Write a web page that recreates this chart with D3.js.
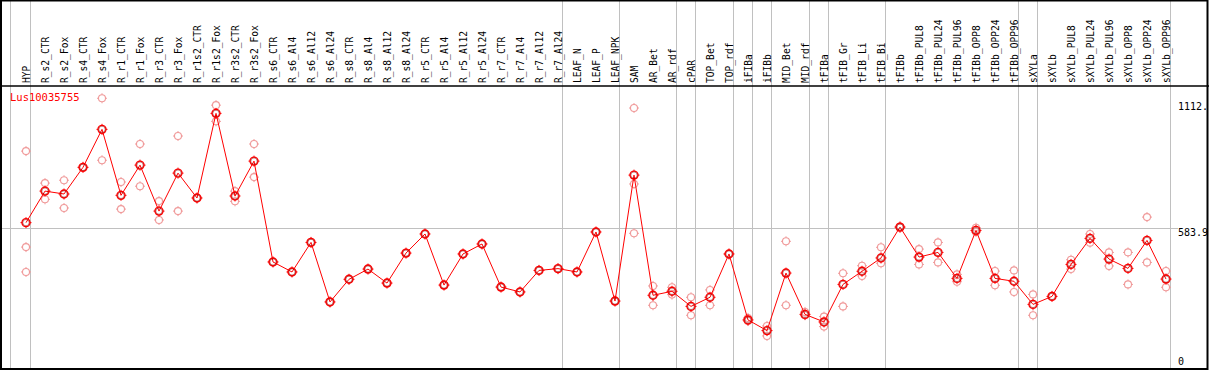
<!DOCTYPE html>
<html>
<head>
<meta charset="utf-8">
<script src="https://cdn.jsdelivr.net/npm/d3@7"></script>
<style>
  body { margin: 0; background: #fff; }
  svg { display: block; }
  text { font-family: "DejaVu Sans Mono", monospace; font-size: 9.6px; }
</style>
</head>
<body>
<svg id="chart" width="1209" height="370"></svg>
<script>
// sample names (header)
const categories = ["HYP",
  "R_s2_CTR", "R_s2_Fox", "R_s4_CTR", "R_s4_Fox", "R_r1_CTR", "R_r1_Fox", "R_r3_CTR", "R_r3_Fox",
  "R_r1s2_CTR", "R_r1s2_Fox", "R_r3s2_CTR", "R_r3s2_Fox",
  "R_s6_CTR", "R_s6_Al4", "R_s6_Al12", "R_s6_Al24", "R_s8_CTR", "R_s8_Al4", "R_s8_Al12", "R_s8_Al24",
  "R_r5_CTR", "R_r5_Al4", "R_r5_Al12", "R_r5_Al24", "R_r7_CTR", "R_r7_Al4", "R_r7_Al12", "R_r7_Al24",
  "LEAF_N", "LEAF_P", "LEAF_NPK",
  "SAM", "AR_Bet", "AR_rdf", "cPAR", "TOP_Bet", "TOP_rdf", "iFIBa", "iFIBb", "MID_Bet", "MID_rdf",
  "tFIBa", "tFIB_Gr", "tFIB_Li", "tFIB_Bi", "tFIBb",
  "tFIBb_PUL8", "tFIBb_PUL24", "tFIBb_PUL96", "tFIBb_OPP8", "tFIBb_OPP24", "tFIBb_OPP96",
  "sXYLa", "sXYLb", "sXYLb_PUL8", "sXYLb_PUL24", "sXYLb_PUL96", "sXYLb_OPP8", "sXYLb_OPP24", "sXYLb_OPP96"];

// mean expression per sample
const means = [608,
  750, 737, 857, 1028, 731, 867, 660, 831, 719, 1100, 728, 885,
  431, 386, 519, 251, 353, 399, 336, 471, 557, 327, 467, 512, 318, 296, 393, 401,
  386, 566, 255,
  822, 281, 299, 231, 272, 467, 170, 122, 381, 195, 161, 330, 389, 449, 588,
  453, 474, 357, 573, 357, 344,
  240, 276, 420, 537, 444, 402, 528, 354];

// individual replicates (pale circles)
const replicates = [[930, 498, 386],
  [786, 713], [799, 674], [857], [1168, 889], [791, 669], [962, 772], [705, 620], [998, 660],
  [719], [1137, 1064], [750, 704], [962, 813],
  [431], [386], [519], [251], [353], [399], [336], [471], [557], [327], [467], [512], [318], [296], [393], [401],
  [386], [566], [255],
  [1124, 782, 560], [323, 236], [317, 284], [272, 191], [305, 236], [467], [179, 165], [143, 98],
  [524, 236], [206, 191], [185, 140], [380, 231], [414, 368], [497, 425], [590, 586],
  [489, 420], [519, 429], [375, 342], [585, 566], [390, 326], [393, 296],
  [285, 191], [276], [441, 399], [557, 518], [474, 413], [474, 330], [633, 429], [390, 317]];

// last index of each sample group (vertical separators)
const groupEnds = [-1, 0, 28, 31, 34, 35, 37, 38, 39, 41, 42, 45, 52, 53, 60];

const geneName = "Lus10035755";
const yTicks = [0, 583.9, 1112];
const yTickLabels = ["0", "583.9", "1112."];
const yMax = 1167.8;

const width = 1209, height = 370;
const headerBottom = 86;

const svg = d3.select("#chart");

const xi = d3.scaleLinear().domain([0, categories.length - 1]).range([26, 1166]);
const y = d3.scaleLinear().domain([0, yMax]).range([357.7, 98.3]);

// x of a group separator (the first one sits a bit further left)
function sepX(k) {
  return k < 0 ? Math.round(xi(0) - 16) + 0.5 : Math.round(xi(k) + 4) + 0.5;
}

// vertical group separators
svg.append("g")
  .selectAll("line")
  .data(groupEnds)
  .enter()
  .append("line")
  .attr("x1", (k) => sepX(k))
  .attr("x2", (k) => sepX(k))
  .attr("y1", 0)
  .attr("y2", height)
  .attr("stroke", "#c0c0c0")
  .attr("stroke-width", 1);

// midline
svg.append("line")
  .attr("x1", 1)
  .attr("x2", 1178)
  .attr("y1", Math.round(y(yTicks[1])) + 0.5)
  .attr("y2", Math.round(y(yTicks[1])) + 0.5)
  .attr("stroke", "#c0c0c0");

// header labels
svg.append("g")
  .selectAll("text")
  .data(categories)
  .enter()
  .append("text")
  .attr("transform", (d, i) => "translate(" + (xi(i) + 4) + "," + (headerBottom - 3) + ") rotate(-90)")
  .attr("fill", "#000")
  .text((d) => d);

// frame
svg.append("rect")
  .attr("x", 1).attr("y", 0.5)
  .attr("width", width - 2.5).attr("height", height - 1.5)
  .attr("fill", "none")
  .attr("stroke", "#000")
  .attr("stroke-width", 2);

svg.append("line")
  .attr("x1", 0).attr("x2", width)
  .attr("y1", headerBottom).attr("y2", headerBottom)
  .attr("stroke", "#000")
  .attr("stroke-width", 1.5);

// right axis labels
svg.append("g")
  .selectAll("text")
  .data(yTicks)
  .enter()
  .append("text")
  .attr("x", 1178)
  .attr("y", (d, i) => y(d) + (i === 2 ? -4 : 4))
  .attr("dy", "0.35em")
  .attr("fill", "#000")
  .style("font-size", "10px")
  .text((d, i) => yTickLabels[i]);

// gene name
svg.append("text")
  .attr("x", 10)
  .attr("y", 97)
  .attr("dy", "0.35em")
  .attr("fill", "#ff0000")
  .style("font-size", "10.5px")
  .text(geneName);

// marker: circle with small ticks at 4 sides
function marker(g, r, color, sw) {
  g.append("circle")
    .attr("r", r)
    .attr("fill", "none")
    .attr("stroke", color)
    .attr("stroke-width", sw);
  [[0, -1], [0, 1], [-1, 0], [1, 0]].forEach(([dx, dy]) => {
    g.append("line")
      .attr("x1", dx * r).attr("y1", dy * r)
      .attr("x2", dx * (r + 1.5)).attr("y2", dy * (r + 1.5))
      .attr("stroke", color)
      .attr("stroke-width", 1);
  });
}

// replicate points
const reps = [];
replicates.forEach((arr, i) => arr.forEach((v) => reps.push({ i: i, v: v })));

svg.append("g")
  .selectAll("g")
  .data(reps)
  .enter()
  .append("g")
  .attr("transform", (d) => "translate(" + xi(d.i) + "," + y(d.v) + ")")
  .each(function () { marker(d3.select(this), 3.5, "#f09a9a", 1.1); });

// mean line
svg.append("path")
  .datum(means)
  .attr("fill", "none")
  .attr("stroke", "#ff0000")
  .attr("stroke-width", 1)
  .attr("d", d3.line().x((d, i) => xi(i)).y((d) => y(d)));

// mean points
svg.append("g")
  .selectAll("g")
  .data(means)
  .enter()
  .append("g")
  .attr("transform", (d, i) => "translate(" + xi(i) + "," + y(d) + ")")
  .each(function () {
    const g = d3.select(this);
    marker(g, 4, "#ff0000", 1.4);
    g.append("circle").attr("r", 3.2).attr("fill", "none").attr("stroke", "#800").attr("stroke-width", 0.5);
  });
</script>
</body>
</html>
